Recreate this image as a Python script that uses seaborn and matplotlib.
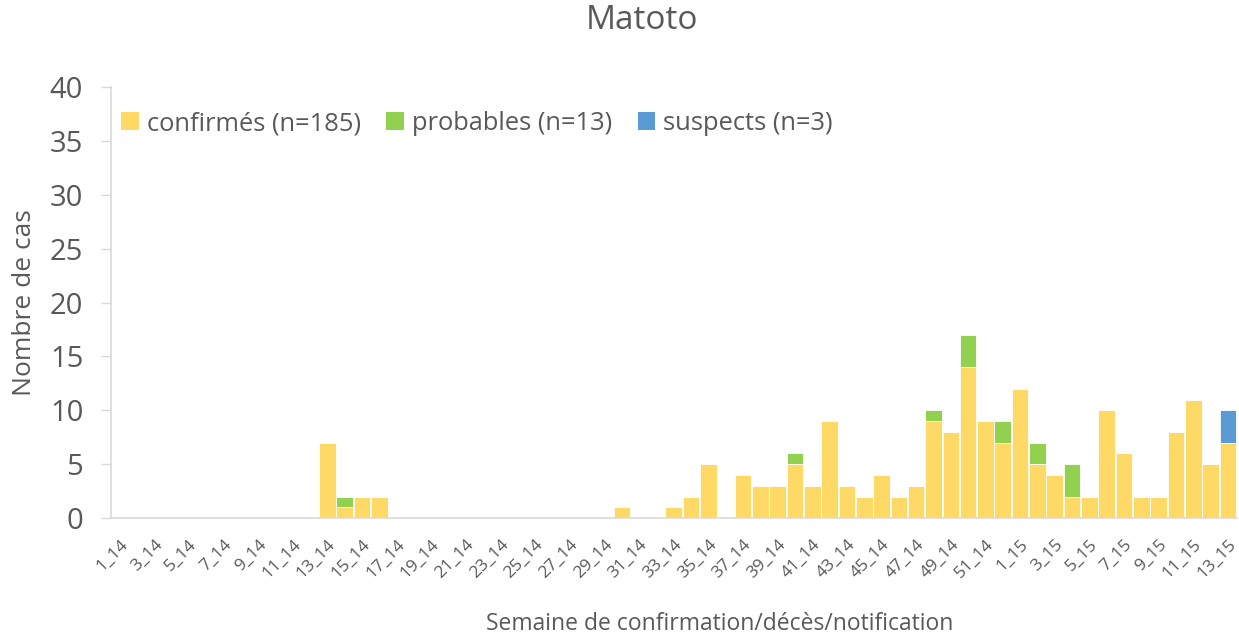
import numpy as np
import pandas as pd
import matplotlib
matplotlib.use("Agg")
import matplotlib.pyplot as plt
from matplotlib.patches import Patch
import seaborn as sns

weeks = [f"{i}_14" for i in range(1, 53)] + [f"{i}_15" for i in range(1, 14)]

confirmes = [0, 0, 0, 0, 0, 0, 0, 0, 0, 0, 0, 0, 7, 1, 2, 2, 0, 0, 0, 0,
             0, 0, 0, 0, 0, 0, 0, 0, 0, 1, 0, 0, 1, 2, 5, 0, 4, 3, 3, 5,
             3, 9, 3, 2, 4, 2, 3, 9, 8, 14, 9, 7,
             12, 5, 4, 2, 2, 10, 6, 2, 2, 8, 11, 5, 7]
probables = [0] * 13 + [1] + [0] * 25 + [1] + [0] * 7 + [1, 0, 3, 0, 2,
             0, 2, 0, 3, 0, 0, 0, 0, 0, 0, 0, 0, 0]
suspects = [0] * 64 + [3]

labels_legend = ["confirmés (n=185)", "probables (n=13)", "suspects (n=3)"]
colors = ["#FFD966", "#92D050", "#5B9BD5"]

sns.set_theme(style="white")
plt.rcParams["font.family"] = ["Open Sans", "DejaVu Sans"]
txt = "#595959"

c = np.array(confirmes)
p = np.array(probables)
s = np.array(suspects)
df = pd.DataFrame({"week": weeks, "l3": c + p + s, "l2": c + p, "l1": c})

fig = plt.figure(figsize=(12.39, 6.38), dpi=100)
ax = fig.add_axes([0.0896, 0.188, 0.9084, 0.6756])

for col, colr in zip(["l3", "l2", "l1"], colors[::-1]):
    sns.barplot(data=df, x="week", y=col, color=colr, ax=ax, errorbar=None,
                width=0.96, edgecolor="white", linewidth=0.6, saturation=1,
                order=weeks)

ax.set_xlim(-0.5, len(weeks) - 0.5)
ax.set_ylim(0, 40)
ax.set_yticks(range(0, 41, 5))
ax.tick_params(axis="y", labelsize=21, colors=txt, length=7, width=1,
               color="#D9D9D9", left=True, pad=13)
ax.set_xticks(range(len(weeks)))
ax.set_xticklabels([w if i % 2 == 0 else "" for i, w in enumerate(weeks)],
                   rotation=45, ha="right", rotation_mode="anchor",
                   fontsize=12.5, color=txt)
ax.tick_params(axis="x", length=0, pad=13)

for sp in ["top", "right"]:
    ax.spines[sp].set_visible(False)
for sp in ["left", "bottom"]:
    ax.spines[sp].set_color("#D9D9D9")
    ax.spines[sp].set_linewidth(1.2)

ax.set_ylabel("Nombre de cas", fontsize=19, color=txt)
ax.set_xlabel("Semaine de confirmation/décès/notification", fontsize=16.5,
              color=txt)
ax.xaxis.set_label_coords(0.541, -0.218)
ax.yaxis.set_label_coords(-0.066, 0.5)

fig.text(0.518, 0.968, "Matoto", ha="center", va="center", fontsize=24,
         color=txt)

handles = [Patch(facecolor=colr, edgecolor="none") for colr in colors]
ax.legend(handles, labels_legend, ncol=3, loc="upper left",
          bbox_to_anchor=(0.0, 0.968), frameon=False, fontsize=18.4,
          labelcolor=txt, handlelength=0.7, handleheight=0.7,
          handletextpad=0.3, columnspacing=1.0, borderaxespad=0)

fig.savefig("out.png", dpi=100)
